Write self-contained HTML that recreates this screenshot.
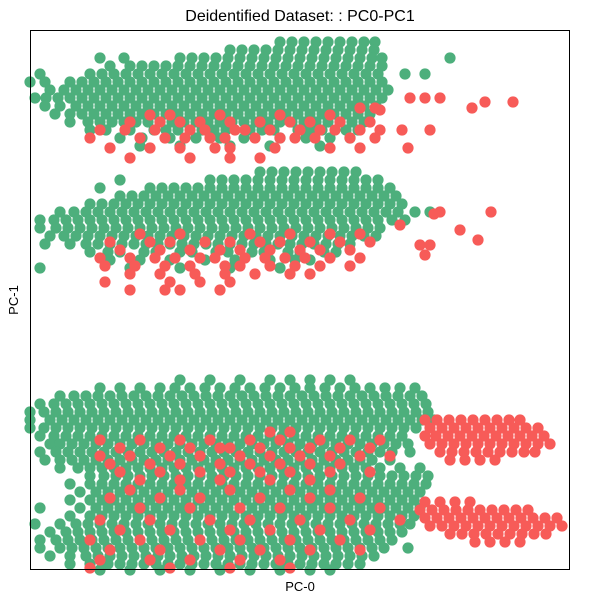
<!DOCTYPE html>
<html><head><meta charset="utf-8"><style>
html,body{margin:0;padding:0;background:#fff;}
svg{display:block;font-family:"Liberation Sans",sans-serif;}
</style></head><body>
<svg id="chart" width="600" height="600" viewBox="0 0 600 600" xmlns="http://www.w3.org/2000/svg">
<rect x="0" y="0" width="600" height="600" fill="#fff"/>
<text x="300" y="21" text-anchor="middle" font-size="16" fill="#000">Deidentified Dataset: : PC0-PC1</text>
<g id="points"></g>
<rect x="30.5" y="30.5" width="539" height="539" fill="none" stroke="#000" stroke-width="1"/>
<text x="300" y="591" text-anchor="middle" font-size="13" fill="#000">PC-0</text>
<text x="18" y="300" text-anchor="middle" font-size="13" fill="#000" transform="rotate(-90 18 300)">PC-1</text>
</svg>
<script>
const xDomain = [0, 540];
const yDomain = [0, 540];
const greenRows = [
[528,250,262,274,286,298,310,322,334,345],
[520,200,212,224,236,248,260,272,284,296,308,320,332,344],
[512,70,94,150,162,174,186,198,210,222,234,246,258,270,282,294,306,318,330,342,352,420],
[504,80,100,112,124,136,148,160,172,184,196,208,220,232,244,256,268,280,292,304,316,328,340,352],
[496,10,60,72,84,96,108,120,132,144,156,168,180,192,204,216,228,240,252,264,276,288,300,312,324,336,348,375,395],
[488,0,15,40,52,64,76,88,100,112,124,136,148,160,172,184,196,208,220,232,244,256,268,280,292,304,316,328,340,352],
[480,20,34,46,58,70,82,94,106,118,130,142,154,166,178,190,202,214,226,238,250,262,274,286,298,310,322,334,346,358],
[472,5,16,28,40,52,64,76,88,100,112,124,136,148,160,172,184,196,208,220,232,244,256,268,280,292,304,316,328,340,352],
[464,15,30,46,58,70,82,94,106,118,130,142,154,166,178,190,202,214,226,238,250,262,274,286,298,310,322,334,346],
[456,25,40,52,64,76,88,100,112,124,136,148,160,172,184,196,208,220,232,244,256,268,280,292,304,316,328,340],
[448,40,58,70,82,94,106,118,130,142,154,166,178,190,202,214,226,238,250,262,274,286,298,310,322,334],
[440,60,76,100,124,136,148,172,184,196,220,232,244,268,280,292,316,328],
[432,90,112,140,166,190,214,250,276,300,320],
[424,110,150,200,240,290],
[398,230,242,254,266,278,290,302,314,326],
[390,90,180,192,204,216,228,240,252,264,276,288,300,312,324,336,348],
[382,70,120,132,144,156,168,180,192,204,216,228,240,252,264,276,288,300,312,324,336,348,360],
[374,90,102,114,126,138,150,162,174,186,198,210,222,234,246,258,270,282,294,306,318,330,342,354,366],
[366,60,72,84,96,108,120,132,144,156,168,180,192,204,216,228,240,252,264,276,288,300,312,324,336,348,360,372],
[358,30,44,56,68,80,92,104,116,128,140,152,164,176,188,200,212,224,236,248,260,272,284,296,308,320,332,344,356,368,385,400],
[350,10,24,36,48,60,72,84,96,108,120,132,144,156,168,180,192,204,216,228,240,252,264,276,288,300,312,324,336,348,362,375],
[342,10,26,38,50,62,74,86,98,110,122,134,146,158,170,182,194,206,218,230,242,254,266,278,290,302,314,326,338,350],
[334,20,34,46,58,70,82,94,106,118,130,142,154,166,178,190,202,214,226,238,250,262,274,286,298,310,322,334,346],
[326,15,40,56,68,80,92,104,116,128,140,152,164,176,188,200,212,224,236,248,260,272,284,296,308,320],
[318,60,78,90,114,126,150,162,186,198,222,234,258,270,294,306],
[310,80,110,140,175,205,240,265,280],
[302,10,100,150,200,250],
[190,150,180,210,240,260,280,300,320],
[182,70,90,110,130,145,160,175,190,205,220,235,250,265,280,295,310,325,340,355,370,385],
[174,30,44,56,68,80,92,104,116,128,140,152,164,176,188,200,212,224,236,248,260,272,284,296,308,320,332,344,356,368,380,392],
[166,10,24,36,48,60,72,84,96,108,120,132,144,156,168,180,192,204,216,228,240,252,264,276,288,300,312,324,336,348,360,372,384,396],
[158,0,14,26,38,50,62,74,86,98,110,122,134,146,158,170,182,194,206,218,230,242,254,266,278,290,302,314,326,338,350,362,374,386,398],
[150,0,20,32,44,56,68,80,92,104,116,128,140,152,164,176,188,200,212,224,236,248,260,272,284,296,308,320,332,344,356,368,380,392,404],
[142,0,14,26,38,50,62,74,86,98,110,122,134,146,158,170,182,194,206,218,230,242,254,266,278,290,302,314,326,338,350,362,374,386],
[134,10,24,36,48,60,72,84,96,108,120,132,144,156,168,180,192,204,216,228,240,252,264,276,288,300,312,324,336,348,360,372],
[126,20,30,42,54,66,78,90,102,114,126,138,150,162,174,186,198,210,222,234,246,258,270,282,294,306,318,330,342,354,366,378],
[118,10,26,38,50,62,74,86,98,110,122,134,146,158,170,182,194,206,218,230,242,254,266,278,290,302,314,326,338,350,362,380],
[110,15,30,42,54,66,78,90,102,114,126,138,150,162,174,186,198,210,222,234,246,258,270,282,294,306,318,330,342,360],
[102,30,48,60,72,84,96,108,120,132,144,156,168,180,192,204,216,228,240,252,264,276,288,300,312,324,336,350,370,390],
[94,60,74,86,98,110,122,134,146,158,170,182,194,206,218,230,242,254,266,278,290,302,314,326,338,350,362,374,386,398],
[86,40,60,72,84,96,108,120,132,144,156,168,180,192,204,216,228,240,252,264,276,288,300,312,324,336,348,360,372,384,396],
[78,50,66,78,90,102,114,126,138,150,162,174,186,198,210,222,234,246,258,270,282,294,306,318,330,342,354,366,378,390],
[70,40,60,72,84,96,108,120,132,144,156,168,180,192,204,216,228,240,252,264,276,288,300,312,324,336,348,360,372,384],
[62,10,50,66,78,90,102,114,126,138,150,162,174,186,198,210,222,234,246,258,270,282,294,306,318,330,342,354,366,378,390],
[54,40,60,72,84,96,108,120,132,144,156,168,180,192,204,216,228,240,252,264,276,288,300,312,324,336,348,360,372,384],
[46,5,30,46,58,70,82,94,106,118,130,142,154,166,178,190,202,214,226,238,250,262,274,286,298,310,322,334,346,358,370,380],
[38,20,36,48,60,72,84,96,108,120,132,144,156,168,180,192,204,216,228,240,252,264,276,288,300,312,324,336,348,360,372],
[30,10,26,38,50,62,74,86,98,110,122,134,146,158,170,182,194,206,218,230,242,254,266,278,290,302,314,326,338,350,362],
[22,10,30,42,54,66,78,90,102,114,126,138,150,162,174,186,198,210,222,234,246,258,270,282,294,306,318,330,342,354,378],
[14,20,40,56,68,80,92,104,116,128,140,152,164,176,188,200,212,224,236,248,260,272,284,296,308,320,332,344],
[6,40,60,78,90,102,114,126,138,150,162,174,186,198,210,222,234,246,258,270,282,294,306,318,330],
[0,70,100,130,160,190,220,250,280,300]
];
const redRows = [
[472,380,395,410],[468,455,483],[462,330,345,442],[460,350],
[455,120,140,190,250,300],
[448,100,130,150,170,200,230,260,280,310,340],
[440,70,95,125,160,175,205,215,240,270,290,305,330,350,372,400],
[432,60,110,135,155,180,195,225,250,265,285,320,345],
[422,80,120,150,185,200,245,300,330,378],
[412,100,160,200,230],
[358,410,461],[356,404],[345,370],[340,430],
[336,110,150,220,260,300,330],
[330,448],
[328,80,120,140,175,200,230,250,280,310,340],
[325,390,400],
[320,90,130,160,190,210,240,270,290,320],
[315,395],
[312,70,100,125,145,170,185,215,235,255,275,300,330],
[304,75,105,135,160,195,210,240,265,290,320],
[296,100,130,165,195,225,260,280],
[288,75,140,170,200],
[280,100,135,150,190],
[150,395,407,419,431,443,455,467,479,490],
[142,400,412,424,436,448,460,472,484,496,508],
[138,240,260],
[134,395,406,418,430,442,454,466,478,490,502,514],
[130,70,110,150,180,220,250,290,320,350],
[126,400,412,424,436,448,460,472,484,496,508,520],
[122,90,130,160,190,200,230,260,280,310,340],
[118,410,422,434,446,458,470,482,494,505],
[114,70,100,140,170,210,240,270,300,330,360],
[110,420,435,450,465],
[106,80,120,150,190,220,250,280,310],
[98,90,130,170,200,230,260,300,340],
[90,110,150,190,240,280],
[80,100,150,200,260,300],
[72,80,130,170,230,280,330],
[68,395,410,425,440],
[62,110,160,210,250,300,350],
[60,390,402,414,426,438,450,462,474,486,498],
[52,395,407,419,431,443,455,467,479,491,503,515,527],
[50,70,120,180,220,270,320,370],
[44,400,412,424,436,448,460,472,484,496,508,520,532],
[40,90,140,200,240,290,340],
[36,420,432,444,456,468,480,492,504,516],
[30,60,110,170,210,260,310],
[28,445,460,475,490],
[20,80,130,190,230,280,330],
[10,70,120,160,210,250],
[2,60,140,200,260]
];
const plot = {left: 30, top: 30, width: 540, height: 540};
function xScale(v){ return plot.left + (v - xDomain[0]) / (xDomain[1] - xDomain[0]) * plot.width; }
function yScale(v){ return plot.top + plot.height - (v - yDomain[0]) / (yDomain[1] - yDomain[0]) * plot.height; }
const NS = 'http://www.w3.org/2000/svg';
const layer = document.getElementById('points');
function drawSeries(rows, color, name){
  const g = document.createElementNS(NS, 'g');
  
  
  g.setAttribute('fill', color);
  rows.forEach(row => {
    const y = row[0];
    for (let i = 1; i < row.length; i++) {
      const c = document.createElementNS(NS, 'circle');
      
      
      c.setAttribute('cx', xScale(row[i]));
      c.setAttribute('cy', yScale(y));
      c.setAttribute('r', 5.6);
      g.appendChild(c);
    }
  });
  layer.appendChild(g);
}
drawSeries(greenRows, '#4daf7c', 'green-series');
drawSeries(redRows, '#f75b58', 'red-series');
</script>
</body></html>
